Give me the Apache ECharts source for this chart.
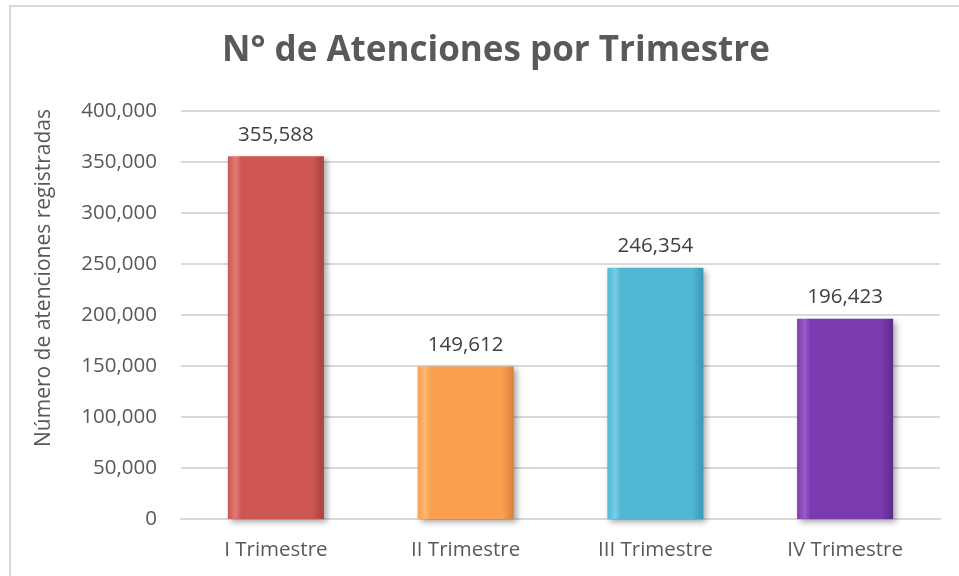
<!DOCTYPE html>
<html lang="es">
<head>
    <meta http-equiv="Content-Type" content="text/html; charset=utf-8"/>
    <title>Atenciones por Trimestre</title>
    <script type="text/javascript" src="https://cdn.jsdelivr.net/npm/echarts@6/dist/echarts.min.js"></script>
    <style>
        html, body { margin: 0; padding: 0; background: #fff; }
        #marco { position: absolute; left: 9px; top: 5px; width: 960px; height: 600px;
                 border-left: 2px solid #d9d9d9; border-top: 2px solid #d9d9d9; }
        #grafico { position: absolute; left: 0; top: 0; width: 959px; height: 576px; }
    </style>
</head>
<body>
<div id="marco"></div>
<div id="grafico"></div>
<script type="text/javascript">
    // datos del grafico
    var trimestres = ['I Trimestre', 'II Trimestre', 'III Trimestre', 'IV Trimestre'];
    var atenciones = [355588, 149612, 246354, 196423];
    var colores = [
        ['#e07a77', '#cd5652', '#a8403d'],
        ['#ffb870', '#fa9f4e', '#d9813a'],
        ['#78cde6', '#4fb7d4', '#3a98b3'],
        ['#9a5dc8', '#7b3aaf', '#5e2a88']
    ];

    function miles(v) {
        return String(v).replace(/\B(?=(\d{3})+(?!\d))/g, ',');
    }

    var myChart = echarts.init(document.getElementById('grafico'));

    var datos = [];
    for (var i = 0; i < atenciones.length; i++) {
        datos.push({
            value: atenciones[i],
            itemStyle: {
                color: new echarts.graphic.LinearGradient(0, 0, 1, 0, [
                    {offset: 0, color: colores[i][1]},
                    {offset: 0.08, color: colores[i][0]},
                    {offset: 0.14, color: colores[i][1]},
                    {offset: 0.88, color: colores[i][1]},
                    {offset: 1, color: colores[i][2]}
                ])
            }
        });
    }

    var option = {
        animation: false,
        textStyle: {fontFamily: 'Open Sans'},
        title: {
            text: 'N° de Atenciones por Trimestre',
            left: 217,
            top: 29,
            textStyle: {fontSize: 35, fontWeight: 'bold', color: '#595959', fontFamily: 'Open Sans'}
        },
        // titulo del eje Y
        graphic: [{
            type: 'text',
            x: 44,
            y: 278,
            rotation: Math.PI / 2,
            style: {
                text: 'Número de atenciones registradas',
                fontSize: 21,
                fontFamily: 'Open Sans',
                fill: '#595959',
                align: 'center',
                verticalAlign: 'middle'
            }
        }],
        grid: {left: 181, right: 19, top: 111, bottom: 57},
        xAxis: {
            type: 'category',
            data: trimestres,
            axisLine: {lineStyle: {color: '#d9d9d9', width: 2}},
            axisTick: {show: false},
            axisLabel: {fontSize: 20.5, color: '#595959', margin: 21}
        },
        yAxis: {
            type: 'value',
            min: 0,
            max: 400000,
            interval: 50000,
            axisLabel: {fontSize: 20.5, color: '#595959', margin: 24, formatter: miles},
            splitLine: {lineStyle: {color: '#d9d9d9', width: 2}}
        },
        series: [{
            type: 'bar',
            data: datos,
            barWidth: 96,
            itemStyle: {
                shadowColor: 'rgba(0,0,0,0.35)',
                shadowBlur: 6,
                shadowOffsetX: 3,
                shadowOffsetY: 3
            },
            label: {
                show: true,
                position: 'top',
                distance: 11,
                fontSize: 20.5,
                color: '#404040',
                formatter: function (p) { return miles(p.value); }
            }
        }]
    };

    myChart.setOption(option);
</script>
</body>
</html>
